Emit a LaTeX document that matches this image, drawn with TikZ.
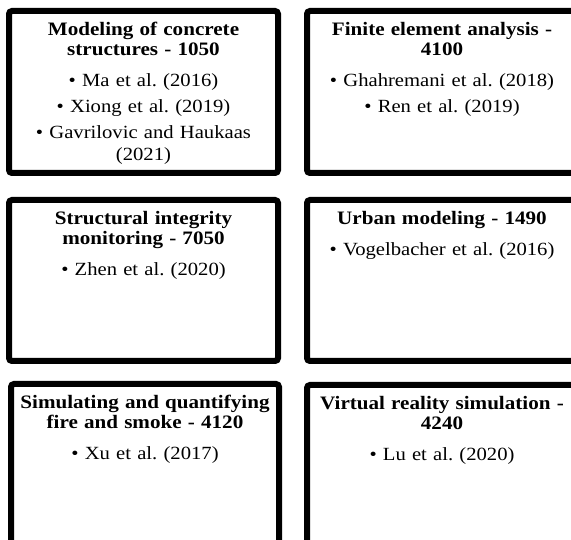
\documentclass[tikz,border=0pt]{standalone}
\usepackage{fontspec}
\setmainfont{Liberation Serif}[FakeStretch=1.11]
\usetikzlibrary{positioning}

\newcommand{\topichead}[1]{{\bfseries\fontsize{19}{20}\selectfont #1\par}\vspace{9pt}}
\newcommand{\paperline}[1]{\textbullet\ #1\par\vspace{4pt}}

\begin{document}
\begin{tikzpicture}[x=1pt,y=-1pt,
    topic/.style={draw, line width=6pt, rounded corners=3pt, outer sep=0pt, inner sep=0pt,
        anchor=north west, minimum width=269pt},
    topictext/.style={inner sep=0pt, text width=264pt, align=center,
        font=\fontsize{18.6}{22}\selectfont}]
\useasboundingbox (0,0) rectangle (571,540);
\clip (0,0) rectangle (571,540);
% row 1
\node[topic, minimum height=162pt] (concrete) at (9,11) {};
\node[topictext, below=11.4pt of concrete.north] (concretetext) {%
    \topichead{Modeling of concrete\\structures - 1050}
    \paperline{Ma et al.\ (2016)}
    \paperline{Xiong et al.\ (2019)}
    \paperline{Gavrilovic and Haukaas\\(2021)}};
\node[topic, minimum width=270pt, minimum height=162pt] (fem) at (307,11) {};
\node[topictext, below=11.4pt of fem.north] (femtext) {%
    \topichead{Finite element analysis -\\4100}
    \paperline{Ghahremani et al.\ (2018)}
    \paperline{Ren et al.\ (2019)}};
% row 2
\node[topic, minimum height=161pt] (integrity) at (9,200) {};
\node[topictext, below=11.4pt of integrity.north] (integritytext) {%
    \topichead{Structural integrity\\monitoring - 7050}
    \paperline{Zhen et al.\ (2020)}};
\node[topic, minimum width=270pt, minimum height=161pt] (urban) at (307,200) {};
\node[topictext, below=11.4pt of urban.north] (urbantext) {%
    \topichead{Urban modeling - 1490}
    \paperline{Vogelbacher et al.\ (2016)}};
% row 3 (cut off at the bottom)
\node[topic, minimum width=268pt, minimum height=200pt] (fire) at (11,384) {};
\node[topictext, below=11.4pt of fire.north] (firetext) {%
    \topichead{Simulating and quantifying\\fire and smoke - 4120}
    \paperline{Xu et al.\ (2017)}};
\node[topic, minimum width=270pt, minimum height=200pt] (vr) at (307,385) {};
\node[topictext, below=11.4pt of vr.north] (vrtext) {%
    \topichead{Virtual reality simulation -\\4240}
    \paperline{Lu et al.\ (2020)}};
\end{tikzpicture}
\end{document}
